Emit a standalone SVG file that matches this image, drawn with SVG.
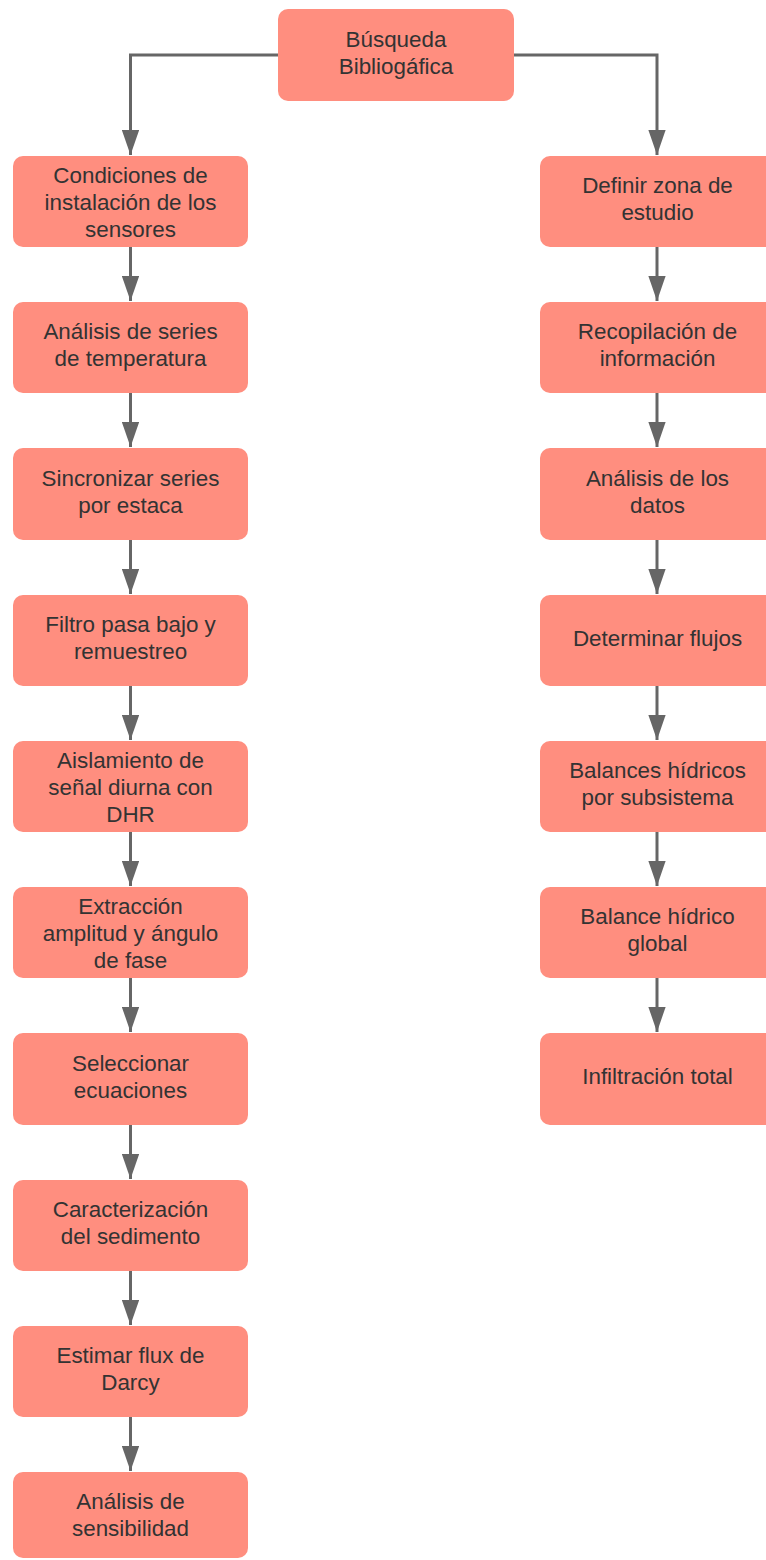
<svg xmlns="http://www.w3.org/2000/svg" width="766" height="1560" viewBox="0 0 766 1560">
<defs>
<style>
.n rect{fill:#FF8E7F;}
.n text{font-family:"Liberation Sans",Arial,sans-serif;font-size:22.4px;fill:#333333;text-anchor:middle;}
.c path{fill:none;stroke:#666666;stroke-width:3;}
</style>
<marker id="ah" markerWidth="8.4" markerHeight="5.8" viewBox="0 0 8.4 5.8" refX="8.4" refY="2.9" orient="auto" markerUnits="strokeWidth">
<path d="M0,0 L8.4,2.9 L0,5.8 Z" fill="#666666"/>
</marker>
</defs>
<rect width="766" height="1560" fill="#ffffff"/>
<g id="connectors" class="c">
<path d="M278,55 H130.5 V155" marker-end="url(#ah)"/>
<path d="M513,55 H657 V155" marker-end="url(#ah)"/>
<path d="M130.5,247 V301" marker-end="url(#ah)"/>
<path d="M130.5,393 V447" marker-end="url(#ah)"/>
<path d="M130.5,540 V594" marker-end="url(#ah)"/>
<path d="M130.5,686 V740" marker-end="url(#ah)"/>
<path d="M130.5,832 V886" marker-end="url(#ah)"/>
<path d="M130.5,978 V1032" marker-end="url(#ah)"/>
<path d="M130.5,1125 V1179" marker-end="url(#ah)"/>
<path d="M130.5,1271 V1325" marker-end="url(#ah)"/>
<path d="M130.5,1417 V1471" marker-end="url(#ah)"/>
<path d="M657,247 V301" marker-end="url(#ah)"/>
<path d="M657,393 V447" marker-end="url(#ah)"/>
<path d="M657,540 V594" marker-end="url(#ah)"/>
<path d="M657,686 V740" marker-end="url(#ah)"/>
<path d="M657,832 V886" marker-end="url(#ah)"/>
<path d="M657,978 V1032" marker-end="url(#ah)"/>
</g>
<g id="n0" class="n"><rect x="278" y="9" width="236" height="92" rx="10"/><text x="396" y="47">Búsqueda</text><text x="396" y="74">Bibliogáfica</text></g>
<g id="l1" class="n"><rect x="13" y="156" width="235" height="91" rx="10"/><text x="130.5" y="183">Condiciones de</text><text x="130.5" y="210">instalación de los</text><text x="130.5" y="237">sensores</text></g>
<g id="l2" class="n"><rect x="13" y="302" width="235" height="91" rx="10"/><text x="130.5" y="339">Análisis de series</text><text x="130.5" y="366">de temperatura</text></g>
<g id="l3" class="n"><rect x="13" y="448" width="235" height="92" rx="10"/><text x="130.5" y="486">Sincronizar series</text><text x="130.5" y="513">por estaca</text></g>
<g id="l4" class="n"><rect x="13" y="595" width="235" height="91" rx="10"/><text x="130.5" y="632">Filtro pasa bajo y</text><text x="130.5" y="659">remuestreo</text></g>
<g id="l5" class="n"><rect x="13" y="741" width="235" height="91" rx="10"/><text x="130.5" y="768">Aislamiento de</text><text x="130.5" y="795">señal diurna con</text><text x="130.5" y="822">DHR</text></g>
<g id="l6" class="n"><rect x="13" y="887" width="235" height="91" rx="10"/><text x="130.5" y="914">Extracción</text><text x="130.5" y="941">amplitud y ángulo</text><text x="130.5" y="968">de fase</text></g>
<g id="l7" class="n"><rect x="13" y="1033" width="235" height="92" rx="10"/><text x="130.5" y="1071">Seleccionar</text><text x="130.5" y="1098">ecuaciones</text></g>
<g id="l8" class="n"><rect x="13" y="1180" width="235" height="91" rx="10"/><text x="130.5" y="1217">Caracterización</text><text x="130.5" y="1244">del sedimento</text></g>
<g id="l9" class="n"><rect x="13" y="1326" width="235" height="91" rx="10"/><text x="130.5" y="1363">Estimar flux de</text><text x="130.5" y="1390">Darcy</text></g>
<g id="l10" class="n"><rect x="13" y="1472" width="235" height="86" rx="10"/><text x="130.5" y="1509">Análisis de</text><text x="130.5" y="1536">sensibilidad</text></g>
<g id="r1" class="n"><rect x="540" y="156" width="235" height="91" rx="10"/><text x="657.5" y="193">Definir zona de</text><text x="657.5" y="220">estudio</text></g>
<g id="r2" class="n"><rect x="540" y="302" width="235" height="91" rx="10"/><text x="657.5" y="339">Recopilación de</text><text x="657.5" y="366">información</text></g>
<g id="r3" class="n"><rect x="540" y="448" width="235" height="92" rx="10"/><text x="657.5" y="486">Análisis de los</text><text x="657.5" y="513">datos</text></g>
<g id="r4" class="n"><rect x="540" y="595" width="235" height="91" rx="10"/><text x="657.5" y="646">Determinar flujos</text></g>
<g id="r5" class="n"><rect x="540" y="741" width="235" height="91" rx="10"/><text x="657.5" y="778">Balances hídricos</text><text x="657.5" y="805">por subsistema</text></g>
<g id="r6" class="n"><rect x="540" y="887" width="235" height="91" rx="10"/><text x="657.5" y="924">Balance hídrico</text><text x="657.5" y="951">global</text></g>
<g id="r7" class="n"><rect x="540" y="1033" width="235" height="92" rx="10"/><text x="657.5" y="1084">Infiltración total</text></g>
</svg>
